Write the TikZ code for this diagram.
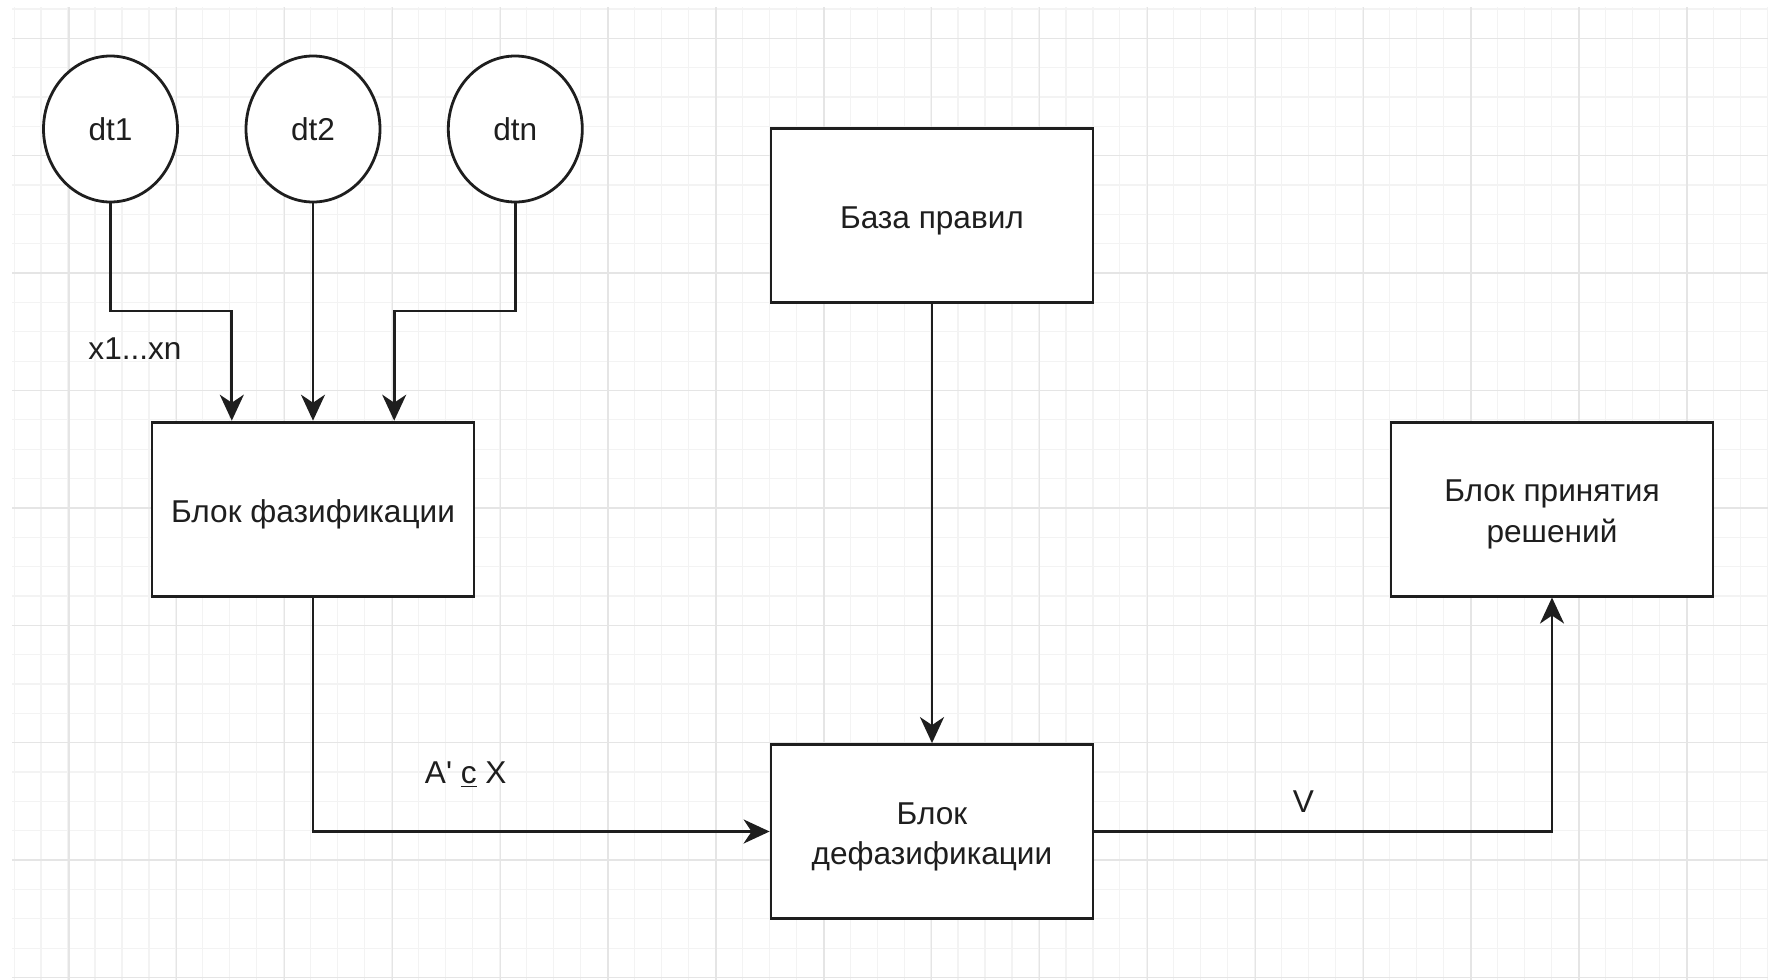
\documentclass[tikz,border=0pt]{standalone}
\usepackage{fontspec}
\setmainfont{Liberation Sans}
\usepackage{tikz}
\usetikzlibrary{arrows.meta,shapes.geometric,calc}
\usepackage{xcolor}

\definecolor{gridminor}{RGB}{243,243,243}
\definecolor{gridmajor}{RGB}{229,229,229}
\definecolor{ink}{RGB}{30,30,30}

% box text, lowered a little as in the drawing
\newcommand{\boxtext}[1]{\raisebox{-2.5pt}[\height][\depth]{%
  \begin{tabular}{@{}c@{}}#1\end{tabular}}}

\tikzset{
  block/.style   = {draw=ink, line width=1.4pt, fill=white, rectangle,
                    minimum width=161pt, minimum height=87pt,
                    align=center, text=ink, font=\fontsize{15.8}{20.3}\selectfont},
  source/.style  = {draw=ink, line width=1.4pt, fill=white, ellipse,
                    minimum width=67pt, minimum height=73pt, inner sep=0pt,
                    text=ink, font=\fontsize{15.8}{19}\selectfont},
  sig-label/.style = {text=ink, font=\fontsize{15.8}{19}\selectfont},
  arr/.style     = {draw=ink, line width=1.4pt,
                    -{Stealth[length=13pt,width=12pt,inset=4pt]}}
}

\begin{document}
\begin{tikzpicture}[x=0.5pt,y=-0.5pt]
\useasboundingbox (0,0) rectangle (1768,980);
\fill[white] (0,0) rectangle (1768,980);

% background grid
\begin{scope}
\clip (12,7) rectangle (1768,980);
\foreach \k in {0,...,65}
  \draw[gridminor, line width=0.6pt] ({14.1+26.97*\k},7) -- ({14.1+26.97*\k},980);
\foreach \k in {0,...,33}
  \draw[gridminor, line width=0.6pt] (12,{8.95+29.35*\k}) -- (1768,{8.95+29.35*\k});
\foreach \k in {0,...,15}
  \draw[gridmajor, line width=0.7pt] ({68.8+107.87*\k},7) -- ({68.8+107.87*\k},980);
\foreach \k in {0,...,8}
  \draw[gridmajor, line width=0.7pt] (12,{38.3+117.4*\k}) -- (1768,{38.3+117.4*\k});
\end{scope}

% inputs
\node[source] (dt1) at (110.5,129) {dt1};
\node[source] (dt2) at (313,129) {dt2};
\node[source] (dtn) at (515.3,129) {dtn};

% blocks
\node[block] (fuzz)   at (313,509.1)  {\boxtext{Блок фазификации}};
\node[block] (rules)  at (932,215.4)  {\boxtext{База правил}};
\node[block] (defuzz) at (932,831.5)  {\boxtext{Блок\\дефазификации}};
\node[block] (decide) at (1552,509.1) {\boxtext{Блок принятия\\решений}};

\coordinate (fuzz-in1) at ($(fuzz.north west)!0.25!(fuzz.north east)$);
\coordinate (fuzz-in3) at ($(fuzz.north west)!0.75!(fuzz.north east)$);

% connectors
\draw[arr] (dt1.south) -- (dt1.south |- 0,311) -| (fuzz-in1);
\draw[arr] (dt2.south) -- (fuzz.north);
\draw[arr] (dtn.south) -- (dtn.south |- 0,311) -| (fuzz-in3);
\draw[arr] (fuzz.south) |- (defuzz.west);
\draw[arr] (rules.south) -- (defuzz.north);
\draw[arr] (defuzz.east) -| (decide.south);

% labels
\node[sig-label] (lbl-x)  at (135,349)   {x1...xn};
\node[sig-label] (lbl-a)  at (465.7,775) {A\textquotesingle{} \underline{c} X};
\node[sig-label] (lbl-v)  at (1303.5,802) {V};
\end{tikzpicture}
\end{document}
